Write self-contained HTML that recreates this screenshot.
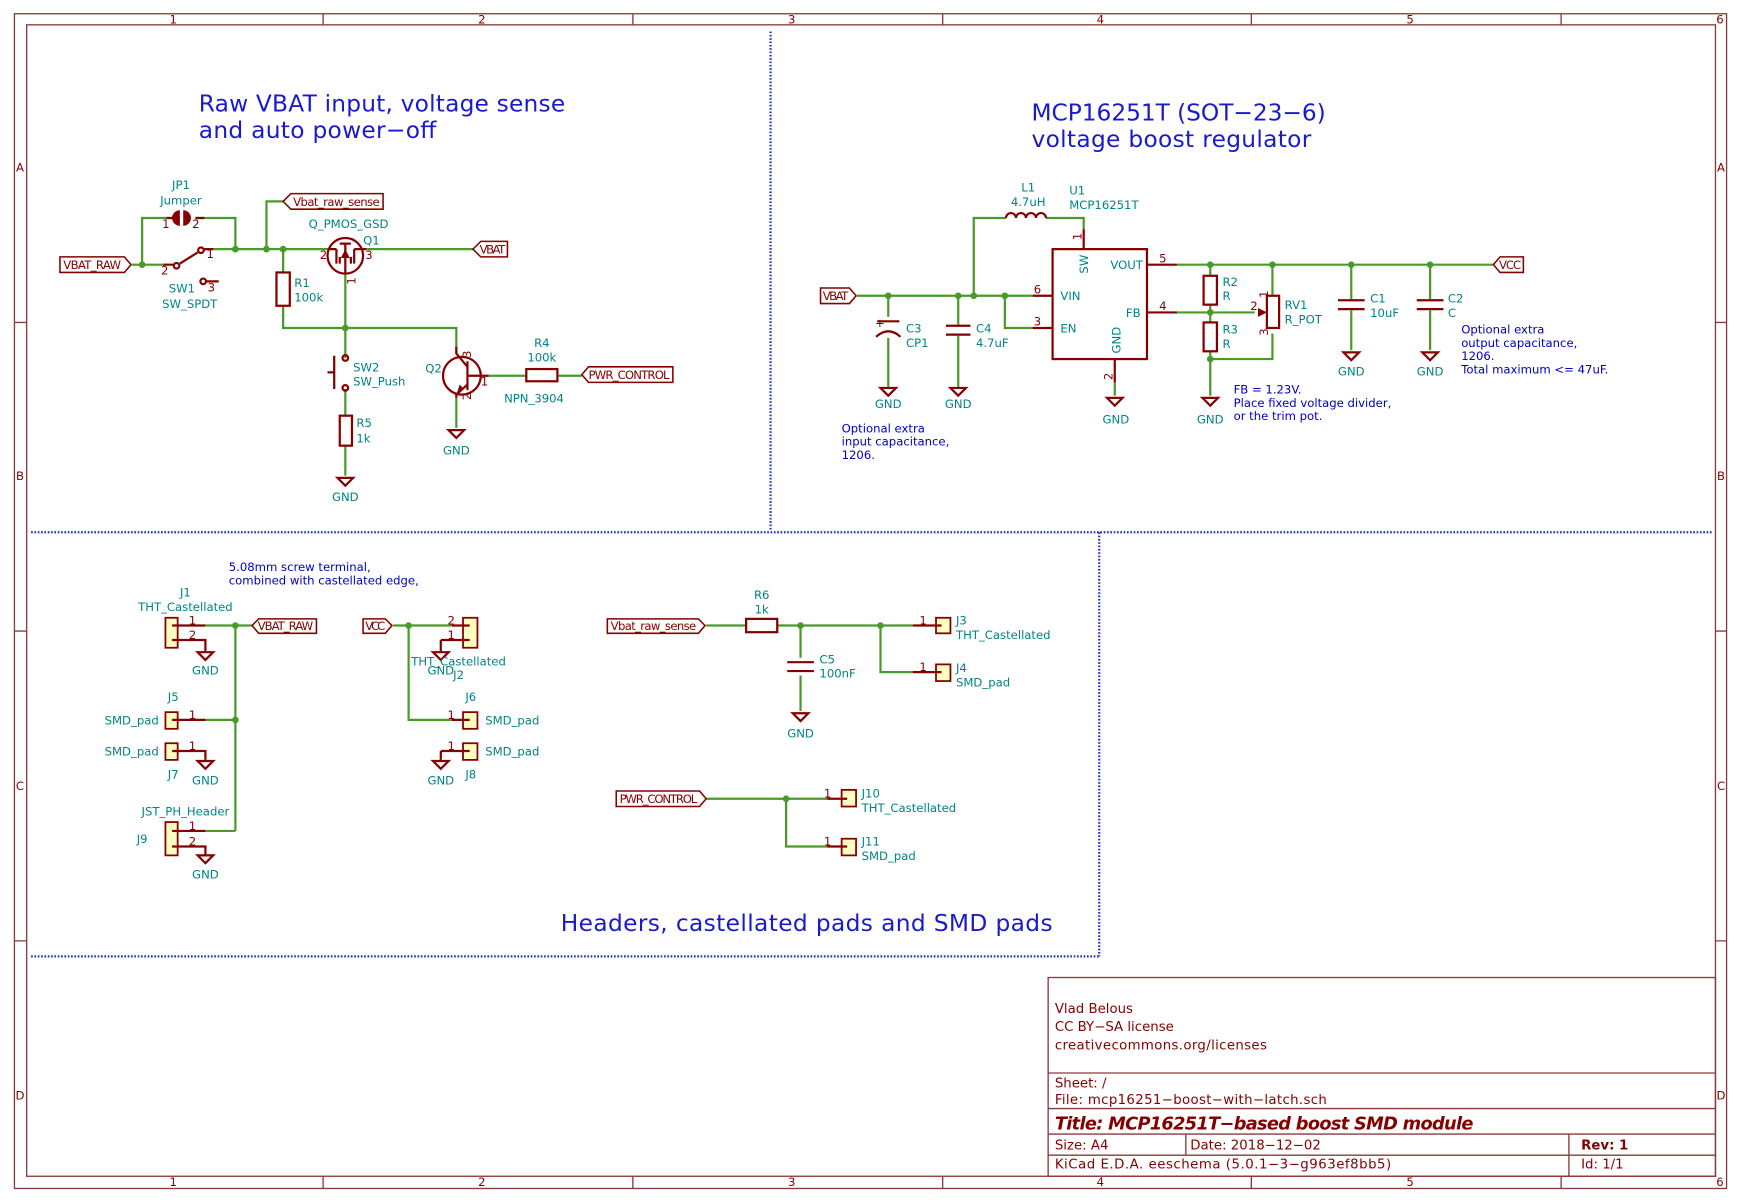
<!DOCTYPE html>
<html><head><meta charset="utf-8"><style>
html,body{margin:0;padding:0;background:#fff;}
svg{display:block;}
text{font-family:"DejaVu Sans","Liberation Sans",sans-serif;}
.f{fill:#008484;font-size:10.5px;}
.n{fill:#0000c4;font-size:10.5px;}
.t{fill:#840000;font-size:10.5px;}
.b{fill:#840000;font-size:12px;}
.bt{fill:#1a1acc;font-size:21px;}
.w{stroke:#4a9a2a;stroke-width:2;fill:none;}
.c{stroke:#840000;stroke-width:2;fill:none;}
.cy{stroke:#840000;stroke-width:1.6;fill:#ffffc2;}
.j{fill:#4a9a2a;}
.fr{stroke:#8a3a3a;stroke-width:1.2;fill:none;}
.d{stroke:#2233cc;stroke-width:2;stroke-dasharray:1.5 1.5;fill:none;}
.lb{stroke:#840000;stroke-width:1.4;fill:#fff;}
</style></head><body>
<svg width="1741" height="1200" viewBox="0 0 1568 1080" xmlns="http://www.w3.org/2000/svg">
<rect width="1568" height="1080" fill="#fff"/>
<rect class="fr" x="13" y="12" width="1542" height="1058"/>
<rect class="fr" x="24" y="22" width="1521" height="1037"/>
<g class="fr">
<path d="M291 12V22M570 12V22M849 12V22M1127 12V22M1406 12V22"/>
<path d="M291 1059V1070M570 1059V1070M849 1059V1070M1127 1059V1070M1406 1059V1070"/>
<path d="M13 290H24M13 568H24M13 847H24M1545 290H1555M1545 568H1555M1545 847H1555"/>
</g>
<g class="t" text-anchor="middle" font-size="10.5">
<text x="156" y="21">1</text><text x="434" y="21">2</text><text x="713" y="21">3</text><text x="991" y="21">4</text><text x="1270" y="21">5</text><text x="1549" y="21">6</text>
<text x="156" y="1068">1</text><text x="434" y="1068">2</text><text x="713" y="1068">3</text><text x="991" y="1068">4</text><text x="1270" y="1068">5</text><text x="1549" y="1068">6</text>
<text x="18" y="154">A</text><text x="18" y="432">B</text><text x="18" y="711">C</text><text x="18" y="990">D</text>
<text x="1550" y="154">A</text><text x="1550" y="432">B</text><text x="1550" y="711">C</text><text x="1550" y="990">D</text>
</g>
<path class="d" d="M694 28V478M28 479H1543M990 479V861M28 861H990"/>

<!-- ===== Section 1 ===== -->
<text class="bt" x="179" y="100" textLength="330">Raw VBAT input, voltage sense</text>
<text class="bt" x="179" y="124" textLength="214">and auto power−off</text>
<path class="lb" d="M54 231H112L118 238L112 245H54Z"/><text class="t" x="57" y="242" textLength="52">VBAT_RAW</text>
<path class="w" d="M118 238H150M128 238V196H157M176 196H212V224M190 224H297M240 224V181H255M255 224V245M255 275V295H411V318M311 246V322M311 350V374M311 401V428M330 224H426M440 338H474M502 338H524M411 358V385"/>
<g class="j"><circle cx="128" cy="238" r="3"/><circle cx="212" cy="224" r="3"/><circle cx="240" cy="224" r="3"/><circle cx="255" cy="224" r="3"/><circle cx="311" cy="295" r="3"/></g>
<path class="c" d="M150 196H157M176 196H184"/>
<path d="M162 189A7 7 0 0 0 162 203Z M165 189A7 7 0 0 1 165 203Z" fill="#840000"/>
<text class="t" x="146" y="205">1</text><text class="t" x="173" y="205">2</text>
<text class="f" x="163" y="170" text-anchor="middle">JP1</text><text class="f" x="163" y="184" text-anchor="middle">Jumper</text>
<path class="c" d="M147 238H156M162 237L178 227M184 224H192M186 253H197"/>
<circle class="c" cx="159" cy="239" r="2.5" stroke-width="1.6"/><circle class="c" cx="181" cy="225" r="2.5" stroke-width="1.6"/><circle class="c" cx="183" cy="253" r="2.5" stroke-width="1.6"/>
<text class="t" x="145" y="247">2</text><text class="t" x="186" y="232">1</text><text class="t" x="187" y="262">3</text>
<text class="f" x="152" y="263">SW1</text><text class="f" x="146" y="277">SW_SPDT</text>
<path class="lb" d="M255 181L262 174H345V188H262Z"/><text class="t" x="264" y="185" textLength="78">Vbat_raw_sense</text>
<circle class="c" cx="311" cy="230" r="16"/>
<path class="c" d="M297 224H303M319 224H330M303 224V237M319 224V237M306 219H316M311 218V246M306 237V231M316 237V231"/>
<path d="M311 224L307 232H315Z" fill="#840000"/>
<text class="t" x="288" y="233">2</text><text class="t" x="329" y="233">3</text>
<text class="t" transform="translate(320 256) rotate(-90)">1</text>
<text class="f" x="278" y="205">Q_PMOS_GSD</text><text class="f" x="327" y="220">Q1</text>
<path class="lb" d="M426 224L433 217H457V231H433Z"/><text class="t" x="432" y="228" textLength="23">VBAT</text>
<rect class="c" x="249" y="245" width="12" height="30" fill="#fff"/>
<text class="f" x="265" y="258">R1</text><text class="f" x="265" y="271">100k</text>
<circle class="c" cx="311" cy="322" r="2.5" stroke-width="1.6"/><circle class="c" cx="311" cy="349" r="2.5" stroke-width="1.6"/>
<path class="c" d="M301 320V350M295 335H301"/>
<text class="f" x="318" y="334">SW2</text><text class="f" x="318" y="347">SW_Push</text>
<rect class="c" x="306" y="374" width="11" height="27" fill="#fff"/>
<text class="f" x="321" y="384">R5</text><text class="f" x="321" y="398">1k</text>
<path class="c" d="M304 430H318L311 437Z"/><text class="f" x="311" y="451" text-anchor="middle">GND</text>
<circle class="c" cx="416" cy="338" r="17"/>
<path class="c" d="M421 325V351M421 338H440M411 312V318L421 330M421 346L411 355V358"/>
<path d="M418 350L411 355L414 346Z" fill="#840000"/>
<text class="f" x="383" y="335">Q2</text><text class="f" x="454" y="362">NPN_3904</text>
<text class="t" x="433" y="347">1</text>
<text class="t" transform="translate(424 322) rotate(-90)">3</text>
<text class="t" transform="translate(424 360) rotate(-90)">2</text>
<path class="c" d="M404 387H418L411 394Z"/><text class="f" x="411" y="409" text-anchor="middle">GND</text>
<rect class="c" x="474" y="332" width="28" height="11" fill="#fff"/>
<text class="f" x="488" y="312" text-anchor="middle">R4</text><text class="f" x="488" y="325" text-anchor="middle">100k</text>
<path class="lb" d="M524 337L530 330H606V344H530Z"/><text class="t" x="530" y="341" textLength="73">PWR_CONTROL</text>

<!-- ===== Section 2 ===== -->
<text class="bt" x="929" y="108" textLength="265">MCP16251T (SOT−23−6)</text>
<text class="bt" x="929" y="132" textLength="252">voltage boost regulator</text>
<path class="lb" d="M739 259H765L771 266L765 273H739Z"/><text class="t" x="741" y="270" textLength="23">VBAT</text>
<path class="w" d="M771 266H930M877 266V196H906M942 196H976V206M905 266V295H930M1060 238H1345M1060 281H1130M1090 238V248M1090 274V290M1090 316V356M1090 323H1146V300M1146 238V266M800 266V285M800 304V348M863 266V292M863 302V348M1217 238V269M1217 279V315M1288 238V269M1288 279V315M1004 344V356"/>
<g class="j"><circle cx="800" cy="266" r="3"/><circle cx="863" cy="266" r="3"/><circle cx="877" cy="266" r="3"/><circle cx="905" cy="266" r="3"/><circle cx="1090" cy="238" r="3"/><circle cx="1146" cy="238" r="3"/><circle cx="1217" cy="238" r="3"/><circle cx="1288" cy="238" r="3"/><circle cx="1090" cy="281" r="3"/><circle cx="1090" cy="323" r="3"/></g>
<path class="c" d="M906 196A4.5 4.5 0 0 1 915 196A4.5 4.5 0 0 1 924 196A4.5 4.5 0 0 1 933 196A4.5 4.5 0 0 1 942 196"/>
<text class="f" x="926" y="172" text-anchor="middle">L1</text><text class="f" x="926" y="185" text-anchor="middle">4.7uH</text>
<rect class="c" x="948" y="224" width="85" height="99" stroke-width="2.4"/>
<path class="c" d="M976 206V224M930 266H948M930 295H948M1033 238H1060M1033 281H1060M1004 323V344"/>
<text class="f" x="963" y="175">U1</text><text class="f" x="963" y="188">MCP16251T</text>
<text class="f" x="955" y="270">VIN</text><text class="f" x="955" y="299">EN</text><text class="f" x="1000" y="242">VOUT</text><text class="f" x="1014" y="285">FB</text>
<text class="f" transform="translate(980 246) rotate(-90)">SW</text><text class="f" transform="translate(1009 318) rotate(-90)">GND</text>
<text class="t" x="931" y="264">6</text><text class="t" x="931" y="293">3</text><text class="t" x="1044" y="236">5</text><text class="t" x="1044" y="279">4</text>
<text class="t" transform="translate(974 216) rotate(-90)">1</text><text class="t" transform="translate(1002 342) rotate(-90)">2</text>
<path class="c" d="M997 358H1011L1004 365Z"/><text class="f" x="1005" y="381" text-anchor="middle">GND</text>
<path class="c" d="M790 289H810M789 303Q800 293 811 303" stroke-width="2.4"/>
<text class="t" x="788" y="294" font-size="11">+</text>
<text class="f" x="816" y="299">C3</text><text class="f" x="816" y="312">CP1</text>
<path class="c" d="M793 349H807L800 356Z"/><text class="f" x="800" y="367" text-anchor="middle">GND</text>
<path class="c" d="M852 293H874M852 301H874" stroke-width="2.4"/>
<text class="f" x="879" y="299">C4</text><text class="f" x="879" y="312">4.7uF</text>
<path class="c" d="M856 349H870L863 356Z"/><text class="f" x="863" y="367" text-anchor="middle">GND</text>
<rect class="c" x="1084" y="248" width="12" height="26" fill="#fff"/>
<rect class="c" x="1084" y="290" width="12" height="26" fill="#fff"/>
<text class="f" x="1101" y="257">R2</text><text class="f" x="1101" y="270">R</text><text class="f" x="1101" y="300">R3</text><text class="f" x="1101" y="313">R</text>
<path class="c" d="M1083 358H1097L1090 365Z"/><text class="f" x="1090" y="381" text-anchor="middle">GND</text>
<rect class="c" x="1141" y="266" width="11" height="29" fill="#fff"/>
<path d="M1141 281L1133 277V285Z" fill="#840000"/>
<text class="t" x="1126" y="279">2</text>
<text class="t" transform="translate(1142 268) rotate(-90)">1</text><text class="t" transform="translate(1142 302) rotate(-90)">3</text>
<text class="f" x="1157" y="278">RV1</text><text class="f" x="1157" y="291">R_POT</text>
<path class="c" d="M1205 270H1229M1205 278H1229M1276 270H1300M1276 278H1300" stroke-width="2.4"/>
<text class="f" x="1234" y="272">C1</text><text class="f" x="1234" y="285">10uF</text>
<text class="f" x="1304" y="272">C2</text><text class="f" x="1304" y="285">C</text>
<path class="c" d="M1210 317H1224L1217 324Z"/><text class="f" x="1217" y="338" text-anchor="middle">GND</text>
<path class="c" d="M1281 317H1295L1288 324Z"/><text class="f" x="1288" y="338" text-anchor="middle">GND</text>
<path class="lb" d="M1345 238L1351 231H1372V245H1351Z"/><text class="t" x="1350" y="242" textLength="20">VCC</text>
<g class="n">
<text x="758" y="389">Optional extra</text><text x="758" y="401">input capacitance,</text><text x="758" y="413">1206.</text>
<text x="1111" y="354">FB = 1.23V.</text><text x="1111" y="366">Place fixed voltage divider,</text><text x="1111" y="378">or the trim pot.</text>
<text x="1316" y="300">Optional extra</text><text x="1316" y="312">output capacitance,</text><text x="1316" y="324">1206.</text><text x="1316" y="336">Total maximum &lt;= 47uF.</text>
</g>

<!-- ===== Section 3 ===== -->
<text class="n" x="206" y="514">5.08mm screw terminal,</text><text class="n" x="206" y="526">combined with castellated edge,</text>
<path class="w" d="M185 563H227M212 563V748M185 648H212M185 748H212M354 563H407M368 563V648H407M636 563H672M700 563H822M721 563V592M721 608V640M793 563V605H822M636 719H745M708 719V762H745"/>
<g class="j"><circle cx="212" cy="563" r="3"/><circle cx="212" cy="648" r="3"/><circle cx="368" cy="563" r="3"/><circle cx="721" cy="563" r="3"/><circle cx="793" cy="563" r="3"/><circle cx="708" cy="719" r="3"/></g>
<rect class="cy" x="149" y="556" width="11" height="27"/>
<path class="c" d="M155 563H185M155 576H185V586"/>
<text class="t" x="170" y="562">1</text><text class="t" x="170" y="575">2</text>
<text class="f" x="167" y="537" text-anchor="middle">J1</text><text class="f" x="167" y="550" text-anchor="middle">THT_Castellated</text>
<path class="c" d="M178 587H192L185 594Z"/><text class="f" x="185" y="607" text-anchor="middle">GND</text>
<path class="lb" d="M227 563L233 557H285V570H233Z"/><text class="t" x="232" y="567" textLength="50">VBAT_RAW</text>
<rect class="cy" x="149" y="641" width="11" height="15"/><path class="c" d="M155 648H185"/>
<text class="t" x="170" y="647">1</text><text class="f" x="156" y="631" text-anchor="middle">J5</text><text class="f" x="143" y="652" text-anchor="end">SMD_pad</text>
<rect class="cy" x="149" y="669" width="11" height="15"/><path class="c" d="M155 676H185V684"/>
<text class="t" x="170" y="675">1</text><text class="f" x="156" y="701" text-anchor="middle">J7</text><text class="f" x="143" y="680" text-anchor="end">SMD_pad</text>
<path class="c" d="M178 685H192L185 692Z"/><text class="f" x="185" y="706" text-anchor="middle">GND</text>
<rect class="cy" x="149" y="740" width="11" height="30"/>
<path class="c" d="M155 748H185M155 762H185V770"/>
<text class="t" x="170" y="747">1</text><text class="t" x="170" y="761">2</text>
<text class="f" x="167" y="734" text-anchor="middle">JST_PH_Header</text><text class="f" x="128" y="759" text-anchor="middle">J9</text>
<path class="c" d="M178 770H192L185 777Z"/><text class="f" x="185" y="791" text-anchor="middle">GND</text>
<path class="lb" d="M327 557H347L353 563L347 570H327Z"/><text class="t" x="329" y="567" textLength="18">VCC</text>
<rect class="cy" x="417" y="556" width="13" height="27"/>
<path class="c" d="M407 563H423M397 576H423M397 576V586"/>
<text class="t" x="403" y="562">2</text><text class="t" x="403" y="575">1</text>
<path class="c" d="M390 587H404L397 594Z"/>
<text class="f" x="413" y="599" text-anchor="middle">THT_Castellated</text><text class="f" x="397" y="607" text-anchor="middle">GND</text><text class="f" x="413" y="611" text-anchor="middle">J2</text>
<rect class="cy" x="417" y="641" width="13" height="15"/><path class="c" d="M407 648H423"/>
<text class="t" x="403" y="647">1</text><text class="f" x="424" y="631" text-anchor="middle">J6</text><text class="f" x="437" y="652">SMD_pad</text>
<rect class="cy" x="417" y="669" width="13" height="15"/><path class="c" d="M397 676H423M397 676V684"/>
<text class="t" x="403" y="675">1</text><text class="f" x="424" y="701" text-anchor="middle">J8</text><text class="f" x="437" y="680">SMD_pad</text>
<path class="c" d="M390 685H404L397 692Z"/><text class="f" x="397" y="706" text-anchor="middle">GND</text>
<path class="lb" d="M547 557H629L635 563L629 570H547Z"/><text class="t" x="550" y="567" textLength="77">Vbat_raw_sense</text>
<rect class="c" x="672" y="557" width="28" height="12" fill="#fff"/>
<text class="f" x="686" y="539" text-anchor="middle">R6</text><text class="f" x="686" y="552" text-anchor="middle">1k</text>
<path class="c" d="M709 596H733M709 604H733" stroke-width="2.4"/>
<text class="f" x="738" y="597">C5</text><text class="f" x="738" y="610">100nF</text>
<path class="c" d="M714 642H728L721 649Z"/><text class="f" x="721" y="664" text-anchor="middle">GND</text>
<rect class="cy" x="843" y="556" width="13" height="14"/><path class="c" d="M822 563H848"/>
<text class="t" x="828" y="562">1</text><text class="f" x="861" y="562">J3</text><text class="f" x="861" y="575">THT_Castellated</text>
<rect class="cy" x="843" y="598" width="13" height="15"/><path class="c" d="M822 605H848"/>
<text class="t" x="828" y="604">1</text><text class="f" x="861" y="605">J4</text><text class="f" x="861" y="618">SMD_pad</text>
<path class="lb" d="M555 712H630L636 719L630 726H555Z"/><text class="t" x="558" y="723" textLength="70">PWR_CONTROL</text>
<rect class="cy" x="758" y="711" width="13" height="15"/><path class="c" d="M745 719H763"/>
<text class="t" x="742" y="718">1</text><text class="f" x="776" y="718">J10</text><text class="f" x="776" y="731">THT_Castellated</text>
<rect class="cy" x="758" y="755" width="13" height="15"/><path class="c" d="M745 762H763"/>
<text class="t" x="742" y="761">1</text><text class="f" x="776" y="761">J11</text><text class="f" x="776" y="774">SMD_pad</text>
<text class="bt" x="505" y="838" textLength="443">Headers, castellated pads and SMD pads</text>

<!-- ===== title block ===== -->
<g class="fr">
<rect x="944" y="880" width="601" height="179"/>
<path d="M944 966H1545M944 998H1545M944 1021H1545M944 1040H1545M1068 1021V1040M1413 1021V1059"/>
</g>
<g class="b">
<text x="950" y="912">Vlad Belous</text><text x="950" y="928">CC BY−SA license</text><text x="950" y="945" textLength="191">creativecommons.org/licenses</text>
<text x="950" y="979">Sheet: /</text><text x="950" y="994" textLength="245">File: mcp16251−boost−with−latch.sch</text>
<text x="950" y="1017" font-size="16" font-weight="bold" font-style="italic" textLength="377">Title: MCP16251T−based boost SMD module</text>
<text x="950" y="1035">Size: A4</text><text x="1072" y="1035">Date: 2018−12−02</text>
<text x="1424" y="1035" font-weight="bold">Rev: 1</text>
<text x="950" y="1052" textLength="303">KiCad E.D.A.  eeschema (5.0.1−3−g963ef8bb5)</text><text x="1424" y="1052">Id: 1/1</text>
</g>
</svg>
</body></html>
